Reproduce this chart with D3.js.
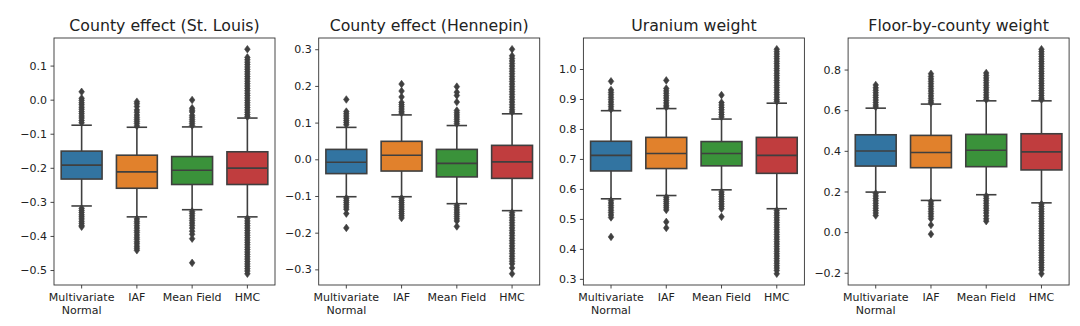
<!DOCTYPE html>
<html><head><meta charset="utf-8">
<script src="https://cdn.jsdelivr.net/npm/d3@7"></script>
<style>
body{margin:0;background:#fff;}
text{font-family:"DejaVu Sans",sans-serif;fill:#222;}
</style></head>
<body><svg id="chart" width="1080" height="326"></svg>
<script>
// ---------------- data ----------------
const methods = ["Multivariate Normal", "IAF", "Mean Field", "HMC"];
const methodLines = [["Multivariate", "Normal"], ["IAF"], ["Mean Field"], ["HMC"]];
const titles = ["County effect (St. Louis)", "County effect (Hennepin)", "Uranium weight", "Floor-by-county weight"];

// [lower whisker, q1, median, q3, upper whisker] per method
const stLouisStats = [
  [-0.312, -0.233, -0.192, -0.151, -0.075],
  [-0.344, -0.260, -0.212, -0.163, -0.081],
  [-0.323, -0.249, -0.207, -0.167, -0.080],
  [-0.344, -0.249, -0.201, -0.153, -0.054]
];
const stLouisOutliers = [
  [0.023, 0.004, -0.002, -0.009, -0.015, -0.022, -0.028, -0.035, -0.041, -0.048, -0.054, -0.061, -0.068,
   -0.319, -0.325, -0.331, -0.338, -0.344, -0.35, -0.357, -0.363, -0.369, -0.373],
  [-0.006, -0.012, -0.02, -0.03, -0.037, -0.045, -0.052, -0.058, -0.064, -0.07, -0.077,
   -0.35, -0.357, -0.363, -0.37, -0.377, -0.384, -0.39, -0.397, -0.404, -0.41, -0.417, -0.423, -0.43, -0.436, -0.442],
  [-0.001, -0.025, -0.031, -0.036, -0.046, -0.052, -0.058, -0.064, -0.07, -0.076,
   -0.328, -0.334, -0.341, -0.348, -0.355, -0.362, -0.369, -0.377, -0.386, -0.395, -0.408, -0.479],
  [0.148, 0.124, 0.117, 0.11, 0.103, 0.096, 0.089, 0.082, 0.075, 0.068, 0.061, 0.054, 0.047, 0.04, 0.033, 0.026,
   0.019, 0.012, 0.005, -0.002, -0.009, -0.016, -0.023, -0.03, -0.037, -0.044, -0.05,
   -0.349, -0.356, -0.363, -0.37, -0.377, -0.384, -0.391, -0.398, -0.405, -0.412, -0.419, -0.426, -0.433, -0.44,
   -0.447, -0.454, -0.461, -0.468, -0.475, -0.482, -0.489, -0.496, -0.503, -0.511]
];
const stLouisTicks = [-0.5, -0.4, -0.3, -0.2, -0.1, 0.0, 0.1];

const hennepinStats = [
  [-0.102, -0.039, -0.008, 0.027, 0.087],
  [-0.102, -0.032, 0.011, 0.049, 0.121],
  [-0.121, -0.048, -0.011, 0.027, 0.092],
  [-0.140, -0.052, -0.007, 0.038, 0.124]
];
const hennepinOutliers = [
  [0.163, 0.13, 0.124, 0.118, 0.112, 0.106, 0.1, 0.094,
   -0.106, -0.112, -0.118, -0.124, -0.13, -0.136, -0.148, -0.187],
  [0.205, 0.186, 0.17, 0.155, 0.149, 0.143, 0.137, 0.131, 0.126,
   -0.106, -0.112, -0.118, -0.124, -0.13, -0.136, -0.142, -0.148, -0.154, -0.16],
  [0.198, 0.183, 0.174, 0.156, 0.133, 0.127, 0.121, 0.115, 0.109, 0.103, 0.097,
   -0.126, -0.132, -0.138, -0.144, -0.15, -0.156, -0.162, -0.168, -0.183],
  [0.3, 0.282, 0.275, 0.268, 0.261, 0.254, 0.247, 0.24, 0.233, 0.226, 0.219, 0.212, 0.205, 0.198, 0.191, 0.184,
   0.177, 0.17, 0.163, 0.156, 0.149, 0.142, 0.135, 0.129,
   -0.145, -0.152, -0.159, -0.166, -0.173, -0.18, -0.187, -0.194, -0.201, -0.208, -0.215, -0.222, -0.229,
   -0.236, -0.243, -0.25, -0.257, -0.264, -0.271, -0.278, -0.285, -0.296, -0.312]
];
const hennepinTicks = [-0.3, -0.2, -0.1, 0.0, 0.1, 0.2, 0.3];

const uraniumStats = [
  [0.567, 0.660, 0.712, 0.759, 0.861],
  [0.578, 0.668, 0.718, 0.772, 0.868],
  [0.597, 0.677, 0.718, 0.758, 0.833],
  [0.534, 0.652, 0.712, 0.772, 0.886]
];
const uraniumOutliers = [
  [0.959, 0.93, 0.922, 0.914, 0.906, 0.898, 0.89, 0.882, 0.874, 0.866,
   0.561, 0.553, 0.545, 0.537, 0.529, 0.521, 0.513, 0.505, 0.44],
  [0.962, 0.935, 0.927, 0.919, 0.911, 0.903, 0.895, 0.887, 0.879, 0.873,
   0.572, 0.565, 0.558, 0.551, 0.544, 0.537, 0.53, 0.49, 0.47],
  [0.913, 0.888, 0.88, 0.872, 0.864, 0.856, 0.848, 0.84,
   0.59, 0.582, 0.574, 0.566, 0.558, 0.55, 0.542, 0.534, 0.507],
  [1.066, 1.058, 1.05, 1.042, 1.034, 1.026, 1.018, 1.01, 1.002, 0.994, 0.986, 0.978, 0.97, 0.962, 0.954,
   0.946, 0.938, 0.93, 0.922, 0.914, 0.906, 0.898, 0.892,
   0.528, 0.52, 0.512, 0.504, 0.496, 0.488, 0.48, 0.472, 0.464, 0.456, 0.448, 0.44, 0.432, 0.424, 0.416,
   0.408, 0.4, 0.392, 0.384, 0.376, 0.368, 0.36, 0.352, 0.344, 0.336, 0.328, 0.317]
];
const uraniumTicks = [0.3, 0.4, 0.5, 0.6, 0.7, 0.8, 0.9, 1.0];

const floorStats = [
  [0.197, 0.325, 0.399, 0.479, 0.610],
  [0.156, 0.317, 0.392, 0.476, 0.630],
  [0.184, 0.322, 0.403, 0.481, 0.646],
  [0.144, 0.306, 0.395, 0.484, 0.646]
];
const floorOutliers = [
  [0.724, 0.71, 0.698, 0.686, 0.674, 0.662, 0.65, 0.638, 0.626, 0.616,
   0.19, 0.178, 0.166, 0.154, 0.142, 0.13, 0.118, 0.106, 0.094, 0.082],
  [0.779, 0.766, 0.754, 0.742, 0.73, 0.718, 0.706, 0.694, 0.682, 0.67, 0.658, 0.646, 0.636,
   0.15, 0.138, 0.126, 0.114, 0.102, 0.09, 0.078, 0.066, 0.035, -0.01],
  [0.783, 0.771, 0.759, 0.747, 0.735, 0.723, 0.711, 0.699, 0.687, 0.675, 0.663, 0.652,
   0.178, 0.166, 0.154, 0.142, 0.13, 0.118, 0.106, 0.094, 0.08, 0.066, 0.054],
  [0.9, 0.888, 0.876, 0.864, 0.852, 0.84, 0.828, 0.816, 0.804, 0.792, 0.78, 0.768, 0.756, 0.744, 0.732,
   0.72, 0.708, 0.696, 0.684, 0.672, 0.66, 0.652,
   0.138, 0.126, 0.114, 0.102, 0.09, 0.078, 0.066, 0.054, 0.042, 0.03, 0.018, 0.006, -0.006, -0.018, -0.03,
   -0.042, -0.054, -0.066, -0.078, -0.09, -0.102, -0.114, -0.126, -0.138, -0.15, -0.162, -0.174, -0.186, -0.205]
];
const floorTicks = [-0.2, 0.0, 0.2, 0.4, 0.6, 0.8];

const colors = ["#3274a1", "#e1812c", "#3a923a", "#c03d3e"];

// ---------------- drawing ----------------
(function () {
const panelsData = [
  {title: titles[0], stats: stLouisStats, outliers: stLouisOutliers, ticks: stLouisTicks},
  {title: titles[1], stats: hennepinStats, outliers: hennepinOutliers, ticks: hennepinTicks},
  {title: titles[2], stats: uraniumStats, outliers: uraniumOutliers, ticks: uraniumTicks},
  {title: titles[3], stats: floorStats, outliers: floorOutliers, ticks: floorTicks}
];

const svg = d3.select("#chart");
const lineCol = "#3f3f3f";
const plotTop = 38, plotBottom = 285, pw = 221, firstLeft = 54, step = 264.7;
const fmt = v => d3.format(".1f")(v).replace("-", "\u2212");

panelsData.forEach((p, i) => {
  const left = firstLeft + i * step;
  const g = svg.append("g").attr("transform", `translate(${left},0)`);
  const allVals = p.stats.flat().concat(p.outliers.flat());
  const [mn, mx] = d3.extent(allVals);
  const pad = (mx - mn) * 0.05;
  const y = d3.scaleLinear().domain([mn - pad, mx + pad]).range([plotBottom, plotTop]);
  const x = d3.scaleBand().domain(methods).range([0, pw]).paddingInner(0).paddingOuter(0);
  const bw = x.bandwidth() * 0.74;

  methods.forEach((m, j) => {
    const [lo, q1, med, q3, hi] = p.stats[j];
    const cx = x(m) + x.bandwidth() / 2;
    g.append("line").attr("x1", cx).attr("x2", cx).attr("y1", y(q3)).attr("y2", y(hi))
      .attr("stroke", lineCol).attr("stroke-width", 1.6);
    g.append("line").attr("x1", cx).attr("x2", cx).attr("y1", y(q1)).attr("y2", y(lo))
      .attr("stroke", lineCol).attr("stroke-width", 1.6);
    [lo, hi].forEach(v => {
      g.append("line").attr("x1", cx - bw / 4).attr("x2", cx + bw / 4).attr("y1", y(v)).attr("y2", y(v))
        .attr("stroke", lineCol).attr("stroke-width", 1.6);
    });
    g.append("rect").attr("x", cx - bw / 2).attr("width", bw).attr("y", y(q3)).attr("height", y(q1) - y(q3))
      .attr("fill", colors[j]).attr("stroke", lineCol).attr("stroke-width", 1.6);
    g.append("line").attr("x1", cx - bw / 2).attr("x2", cx + bw / 2).attr("y1", y(med)).attr("y2", y(med))
      .attr("stroke", lineCol).attr("stroke-width", 1.6);
    g.selectAll(null).data(p.outliers[j]).enter().append("path")
      .attr("d", d => `M${cx},${y(d) - 3.8}L${cx + 2.8},${y(d)}L${cx},${y(d) + 3.8}L${cx - 2.8},${y(d)}Z`)
      .attr("fill", lineCol).attr("stroke", lineCol).attr("stroke-width", 0.6);
  });

  g.append("rect").attr("x", 0).attr("y", plotTop).attr("width", pw).attr("height", plotBottom - plotTop)
    .attr("fill", "none").attr("stroke", "#333").attr("stroke-width", 0.9);

  const ya = g.append("g").call(d3.axisLeft(y).tickValues(p.ticks).tickFormat(fmt).tickSize(3.5).tickPadding(3.5));
  ya.select(".domain").remove();
  ya.selectAll("line").attr("stroke", "#333").attr("stroke-width", 0.9);
  ya.selectAll("text").style("font-size", "11px").attr("fill", "#222").style("font-family", "DejaVu Sans");

  const xa = g.append("g").attr("transform", `translate(0,${plotBottom})`)
    .call(d3.axisBottom(x).tickSize(3.5).tickPadding(3.5).tickFormat(""));
  xa.select(".domain").remove();
  xa.selectAll("line").attr("stroke", "#333").attr("stroke-width", 0.9);
  methods.forEach((m, j) => {
    const cx = x(m) + x.bandwidth() / 2;
    const t = g.append("text").attr("x", cx).attr("y", 301).attr("text-anchor", "middle")
      .style("font-size", "11px");
    methodLines[j].forEach((ln, k) => {
      t.append("tspan").attr("x", cx).attr("dy", k === 0 ? 0 : 13).text(ln);
    });
  });

  g.append("text").attr("x", pw / 2).attr("y", 31).attr("text-anchor", "middle")
    .style("font-size", "15.75px").text(p.title);
});
})();
</script></body></html>
